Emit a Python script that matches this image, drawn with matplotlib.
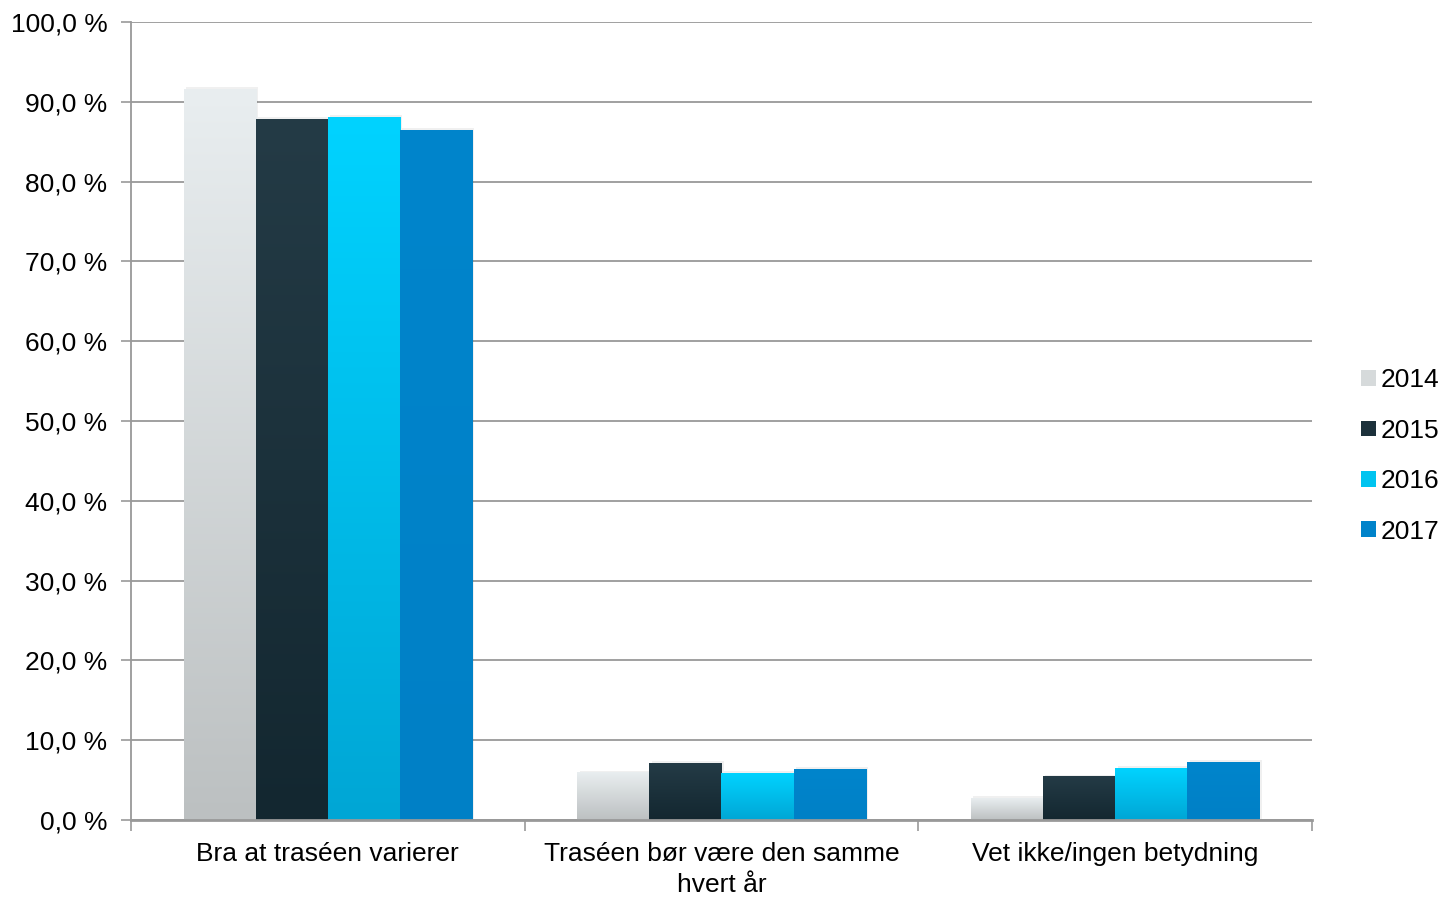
import numpy as np
import matplotlib.pyplot as plt
from matplotlib.patches import Patch
from matplotlib.colors import LinearSegmentedColormap

plt.rcParams['font.family'] = ['Liberation Sans', 'DejaVu Sans']

# data
categories = ['Bra at traséen varierer', 'Traséen bør være den samme\nhvert år', 'Vet ikke/ingen betydning']
years = ['2014', '2015', '2016', '2017']
v2014 = [91.6, 5.9, 2.7]
v2015 = [87.8, 7.1, 5.4]
v2016 = [88.0, 5.8, 6.5]
v2017 = [86.4, 6.3, 7.2]
series = [v2014, v2015, v2016, v2017]

# gradient (top, bottom) for each year
grads = [('#e9eef0', '#bcc0c1'), ('#243b46', '#132730'),
         ('#00d3ff', '#00a6d5'), ('#0085cc', '#0080c6')]
solid = ['#d6dadb', '#1c313b', '#00c4f0', '#0083ca']

fig = plt.figure(figsize=(14.43, 8.97), dpi=100)
ax = fig.add_axes([131 / 1443, 1 - 820 / 897, (1312 - 131) / 1443, (820 - 22) / 897])

w = 0.183
x = np.arange(len(categories))
grad = np.linspace(0, 1, 256).reshape(-1, 1)
for i, vals in enumerate(series):
    xs = x + (i - 1.5) * w
    bars = ax.bar(xs, vals, w, color='none', zorder=3)
    cmap = LinearSegmentedColormap.from_list('g%d' % i, [grads[i][1], grads[i][0]])
    for b in bars:
        x0, h = b.get_x(), b.get_height()
        # soft shadow
        ax.bar(x0 + w / 2 + 0.006, h + 0.3, w, color='#000000', alpha=0.06, zorder=2)
        ax.imshow(grad, extent=(x0, x0 + w, 0, h), origin='lower', cmap=cmap,
                  aspect='auto', zorder=3 + i * 0.01, interpolation='bicubic')

ax.set_xlim(-0.5, 2.5)
ax.set_ylim(0, 100)
yt = np.arange(0, 101, 10)
ax.set_yticks(yt)
ax.set_yticklabels(['%s %%' % ('%.1f' % v).replace('.', ',') for v in yt])
ax.yaxis.set_tick_params(labelsize=19, length=7, width=1.2, color='#999999', pad=10)
ax.grid(axis='y', color='#999999', linewidth=1.3, zorder=0)
ax.set_axisbelow(True)

ax.set_xticks([-0.5, 0.5, 1.5, 2.5])
ax.set_xticklabels([])
ax.xaxis.set_tick_params(length=8, width=1.2, color='#999999')
ax.set_xticks(x, minor=True)
ax.set_xticklabels(categories, minor=True, fontsize=19, linespacing=1.35)
ax.xaxis.set_tick_params(which='minor', length=0, pad=16)

for s in ['top', 'right']:
    ax.spines[s].set_visible(False)
for s in ['left', 'bottom']:
    ax.spines[s].set_color('#999999')
    ax.spines[s].set_linewidth(1.3)
ax.spines['bottom'].set_linewidth(2)
ax.spines['bottom'].set_zorder(5)

handles = [Patch(facecolor=solid[i], edgecolor='none', label=years[i]) for i in range(4)]
fig.legend(handles=handles, loc='center left', bbox_to_anchor=(1361 / 1443, 1 - 456 / 897),
           frameon=False, fontsize=19, handlelength=0.55, handleheight=0.55,
           handletextpad=0.2, labelspacing=1.0, borderpad=0, borderaxespad=0)

fig.savefig('out.png', dpi=100)
